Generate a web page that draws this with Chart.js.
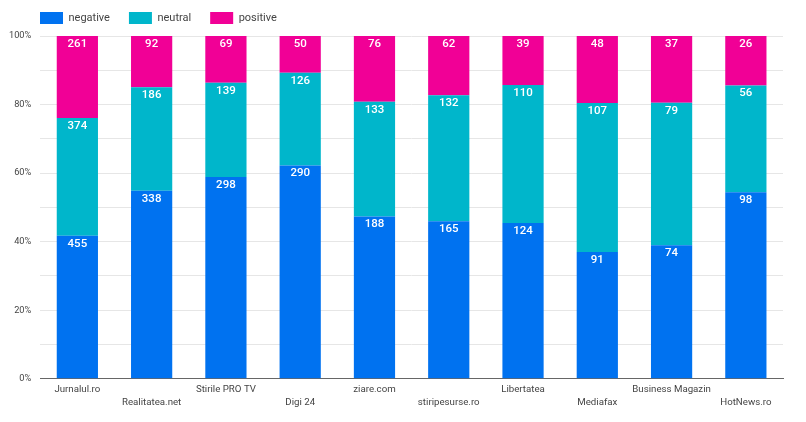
<!DOCTYPE html>
<html>
<head>
<meta charset="utf-8">
<script src="https://cdn.jsdelivr.net/npm/chart.js@4"></script>
<style>
html,body{margin:0;padding:0;background:#fff;}
#wrap{width:806px;height:422px;}
</style>
</head>
<body>
<div id="wrap"><canvas id="c" width="806" height="422"></canvas></div>
<script>
const categories = ['Jurnalul.ro','Realitatea.net','Stirile PRO TV','Digi 24','ziare.com','stiripesurse.ro','Libertatea','Mediafax','Business Magazin','HotNews.ro'];
const negative = [455, 338, 298, 290, 188, 165, 124, 91, 74, 98];
const neutral  = [374, 186, 139, 126, 133, 132, 110, 107, 79, 56];
const positive = [261, 92, 69, 50, 76, 62, 39, 48, 37, 26];
const seriesNames = ['negative','neutral','positive'];
const yTickValues = [0, 20, 40, 60, 80, 100];

const colors = ['#0072f0', '#00b6cb', '#f10096'];
const raw = [negative, neutral, positive];
const totals = categories.map((_, i) => negative[i] + neutral[i] + positive[i]);

const datasets = raw.map((arr, k) => ({
  label: seriesNames[k],
  data: arr.map((v, i) => v / totals[i] * 100),
  counts: arr,
  backgroundColor: colors[k],
  borderWidth: 0,
  categoryPercentage: 1.0,
  barPercentage: 0.555
}));

const valueLabels = {
  id: 'valueLabels',
  afterDatasetsDraw(chart) {
    const ctx = chart.ctx;
    ctx.save();
    ctx.fillStyle = '#ffffff';
    ctx.font = '500 11.5px Roboto';
    ctx.textAlign = 'center';
    ctx.textBaseline = 'middle';
    chart.data.datasets.forEach((ds, di) => {
      const meta = chart.getDatasetMeta(di);
      meta.data.forEach((bar, i) => {
        ctx.fillText(String(ds.counts[i]), bar.x, bar.y + 8);
      });
    });
    ctx.restore();
  }
};

const legendTweak = {
  id: 'legendTweak',
  beforeInit(chart) {
    const lg = chart.legend;
    if (!lg) return;
    const orig = lg.fit;
    lg.fit = function () { orig.call(this); this.height = 36; };
  },
  afterLayout(chart) {
    const lg = chart.legend;
    if (!lg) return;
    lg.left += 21; lg.right += 21;
    lg.top -= 7; lg.bottom -= 7;
  }
};

new Chart(document.getElementById('c'), {
  type: 'bar',
  data: { labels: categories, datasets },
  plugins: [valueLabels, legendTweak],
  options: {
    responsive: false,
    animation: false,
    devicePixelRatio: 1,
    layout: { padding: { left: 0, right: 23, top: 0, bottom: 8 } },
    plugins: {
      tooltip: { enabled: false },
      legend: {
        position: 'top',
        align: 'start',
        labels: {
          boxWidth: 23,
          boxHeight: 12,
          padding: 19,
          color: '#444444',
          font: { family: 'Roboto', size: 11 }
        }
      }
    },
    scales: {
      x: {
        stacked: true,
        grid: { display: false, drawTicks: false },
        border: { display: true, color: '#666666', width: 1 },
        ticks: {
          autoSkip: false,
          maxRotation: 0,
          minRotation: 0,
          padding: 4.5,
          color: '#444444',
          font: { family: 'Roboto', size: 9.7, lineHeight: 1.35 },
          callback: function (v, i) {
            const l = categories[i];
            return i % 2 ? ['', l] : l;
          }
        }
      },
      y: {
        stacked: true,
        min: 0,
        max: 100,
        border: { display: false },
        grid: { color: '#e6e6e6', drawTicks: false },
        ticks: {
          stepSize: 10,
          padding: 9,
          color: '#444444',
          font: { family: 'Roboto', size: 9.2 },
          callback: function (v) { return yTickValues.includes(v) ? v + '%' : ''; }
        }
      }
    }
  }
});
</script>
</body>
</html>
